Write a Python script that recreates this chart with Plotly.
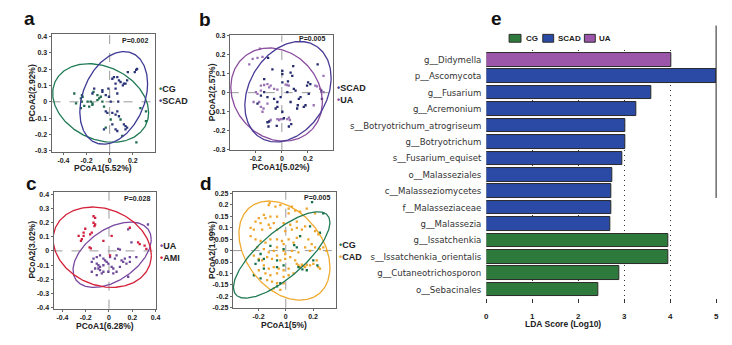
import numpy as np
import plotly.graph_objects as go

W, H = 732, 345
FONT = "Liberation Sans, Arial, sans-serif"

# ---------------- panel a: CG vs SCAD ----------------
a_cg_x = [-0.306, -0.24, -0.234, -0.249, -0.291, -0.24, -0.191, -0.177, -0.163, -0.149,
          -0.14, -0.106, -0.091, -0.077, -0.063, -0.049, -0.106, -0.149, -0.22, -0.249,
          0.266, 0.314, 0.314, 0.231, 0.109, -0.034, 0.009, 0.094]
a_cg_y = [0.051, 0.041, 0.031, 0.021, -0.009, 0.001, 0.001, -0.029, 0.001, -0.019,
          0.061, 0.041, 0.021, 0.031, 0.001, -0.029, 0.011, -0.009, -0.025, -0.039,
          -0.039, -0.058, -0.118, -0.248, -0.208, -0.158, -0.108, -0.108]
a_scad_x = [-0.134, -0.149, -0.063, -0.063, -0.034, -0.011, -0.006, 0.009, 0.023, 0.037,
            0.066, 0.08, 0.051, 0.094, 0.123, 0.137, 0.114, 0.151, 0.157, 0.217,
            0.229, 0.237, 0.051, 0.066, 0.074, -0.034, -0.02, 0.023, 0.051, 0.066,
            0.023, 0.08, 0.123, 0.137, 0.151, 0.137, -0.049, 0.051, 0.066]
a_scad_y = [0.081, 0.051, 0.061, 0.071, 0.041, 0.081, 0.031, 0.001, 0.141, 0.151,
            0.151, 0.131, 0.111, 0.121, 0.111, 0.111, 0.101, 0.131, 0.181, 0.181,
            0.195, 0.201, 0.081, 0.051, 0.001, -0.058, -0.068, -0.068, -0.078, -0.058,
            -0.138, -0.088, -0.138, -0.148, -0.158, -0.168, -0.168, -0.168, -0.178]

# ---------------- panel b: SCAD vs UA ----------------
b_ua_x = [-0.168, -0.223, -0.186, -0.148, -0.249, -0.16, -0.135, -0.11, -0.198, -0.186,
          -0.16, -0.097, -0.085, -0.059, -0.034, 0.029, 0.042, 0.054, -0.216, -0.173,
          -0.16, -0.14, -0.148, -0.11, -0.085, -0.034, -0.021, -0.009, 0.004, 0.042,
          0.054, 0.062, 0.256, 0.269, 0.244, 0.319, 0.319, 0.294]
b_ua_y = [0.23, 0.177, 0.182, 0.187, 0.148, 0.037, 0.04, 0.045, 0.003, -0.006,
          0.011, 0.028, 0.037, 0.02, 0.016, 0.042, 0.04, 0.037, -0.049, -0.049,
          -0.074, -0.083, -0.1, -0.057, -0.143, -0.138, -0.143, -0.138, -0.138, -0.138,
          -0.131, -0.143, 0.037, 0.033, -0.066, 0.088, 0.003, 0.02]
b_scad_x = [-0.105, -0.135, -0.072, 0.004, 0.004, 0.067, 0.08, 0.087, 0.004, 0.047,
            0.092, 0.105, 0.13, 0.117, 0.143, 0.067, -0.034, -0.059, -0.009, -0.11,
            -0.186, -0.16, -0.034, -0.047, 0.004, 0.016, 0.054, 0.072, -0.097, -0.11,
            -0.102, -0.039, 0.201, 0.218, 0.206, 0.274, 0.302, 0.307, 0.168, 0.193,
            0.181, 0.122, 0.042, -0.135]
b_scad_y = [0.182, 0.071, 0.122, 0.114, 0.097, 0.105, 0.088, 0.139, 0.054, 0.059,
            0.02, 0.011, -0.032, -0.083, -0.023, -0.049, -0.049, -0.032, -0.023, -0.023,
            -0.057, -0.015, -0.074, -0.083, -0.1, -0.134, -0.177, -0.165, -0.151, -0.155,
            -0.177, -0.174, 0.054, 0.045, -0.006, 0.148, 0.011, -0.032, -0.074, 0.037,
            -0.066, -0.066, 0.003, 0.003]

# ---------------- panel c: UA vs AMI ----------------
c_ua_x = [-0.105, -0.077, -0.048, -0.034, -0.133, -0.148, -0.105, -0.091, -0.077, -0.048,
          -0.02, -0.006, 0.009, 0.023, 0.037, 0.051, 0.065, 0.079, 0.094, 0.108,
          0.122, 0.136, 0.15, 0.179, 0.179, 0.193, 0.165, -0.048, -0.077, -0.091,
          -0.062, -0.105, -0.148, -0.119, -0.006, 0.037, 0.065, 0.094, 0.235, 0.165,
          0.335]
c_ua_y = [-0.044, -0.032, -0.055, -0.067, -0.055, -0.078, -0.09, -0.101, -0.113, -0.101,
          -0.078, -0.09, -0.044, -0.113, -0.124, -0.055, -0.032, 0.014, 0.009, -0.067,
          -0.078, -0.055, -0.09, -0.044, -0.078, 0.06, -0.182, -0.147, -0.136, -0.124,
          -0.159, -0.17, -0.147, -0.124, -0.147, -0.159, -0.147, -0.113, -0.044, 0.152,
          0.186]
c_ami_x = [-0.204, -0.218, -0.261, -0.233, -0.241, -0.162, -0.148, -0.133, -0.119, -0.133,
           -0.119, -0.125, -0.167, -0.156, -0.048, 0.023, 0.009, -0.218, 0.25, 0.264,
           0.306, 0.321, 0.179]
c_ami_y = [0.156, 0.129, 0.106, 0.083, 0.071, 0.117, 0.129, 0.244, 0.232, 0.198,
           0.186, 0.175, 0.025, 0.018, 0.071, 0.106, -0.032, 0.106, 0.06, 0.048,
           0.037, 0.014, 0.163]

# ---------------- panel d: CG vs CAD ----------------
d_cad_x = [-0.118, -0.125, -0.076, -0.04, 0.021, 0.045, 0.069, 0.105, 0.154, 0.215,
           -0.161, -0.198, -0.149, -0.113, -0.064, 0.021, -0.222, -0.185, -0.125, -0.088,
           -0.016, 0.033, 0.081, -0.258, -0.234, -0.173, -0.113, -0.064, -0.004, 0.045,
           0.081, 0.118, 0.142, 0.215, 0.239, -0.258, -0.222, -0.185, -0.149, -0.113,
           -0.064, -0.028, -0.016, 0.021, 0.057, 0.081, 0.105, 0.166, 0.19, -0.21,
           -0.161, -0.125, -0.088, -0.064, -0.016, -0.004, 0.045, 0.093, 0.142, 0.178,
           0.215, 0.251, 0.275, 0.299, -0.234, -0.198, -0.173, -0.137, -0.101, -0.064,
           -0.04, -0.004, 0.033, 0.069, 0.081, 0.093, 0.105, 0.118, 0.13, 0.142,
           0.154, 0.178, 0.202, 0.227, 0.239, 0.251, -0.161, -0.125, -0.088, -0.052,
           -0.016, 0.021, -0.198, -0.149, -0.113, -0.064, -0.016, 0.021, 0.057, -0.137,
           -0.101, -0.064, -0.016, -0.088, -0.04]
d_cad_y = [0.209, 0.199, 0.192, 0.199, 0.184, 0.192, 0.175, 0.17, 0.184, 0.163,
           0.156, 0.142, 0.142, 0.149, 0.149, 0.163, 0.127, 0.12, 0.113, 0.12,
           0.12, 0.113, 0.127, 0.099, 0.092, 0.092, 0.099, 0.092, 0.085, 0.092,
           0.099, 0.092, 0.106, 0.085, 0.071, 0.063, 0.049, 0.042, 0.035, 0.049,
           0.049, 0.042, 0.028, 0.049, 0.035, 0.056, 0.063, 0.049, 0.028, 0.014,
           0.006, -0.008, -0.001, 0.014, -0.001, -0.015, -0.001, -0.008, 0.014, -0.001,
           0.014, 0.006, 0.014, -0.001, -0.022, -0.036, -0.043, -0.029, -0.036, -0.022,
           -0.043, -0.036, -0.029, -0.043, -0.058, -0.065, -0.072, -0.062, -0.068, -0.072,
           -0.062, -0.065, -0.058, -0.043, -0.072, -0.079, -0.065, -0.079, -0.072, -0.079,
           -0.086, -0.079, -0.086, -0.1, -0.108, -0.1, -0.115, -0.108, -0.1, -0.129,
           -0.136, -0.143, -0.143, -0.165, -0.172]
d_cg_x = [0.275, 0.251, 0.178, 0.105, 0.081, 0.062, -0.016, -0.113, -0.161, -0.198,
          -0.222, -0.185, -0.161, -0.064, -0.064, -0.016, 0.093, 0.122, 0.154, 0.202,
          -0.234, -0.185, -0.04, -0.064, 0.232, 0.193]
d_cg_y = [0.163, 0.078, 0.106, 0.063, 0.014, 0.024, 0.006, 0.021, -0.036, -0.043,
          -0.058, -0.015, -0.079, -0.043, -0.072, -0.065, -0.072, -0.082, -0.086, -0.043,
          -0.108, -0.122, -0.143, -0.157, -0.065, 0.212]

# confidence ellipses: centre x, centre y, half-width, half-height, tilt phase
ell_a_cg = [-0.078, -0.007, 0.415, 0.24, -0.25]
ell_a_scad = [0.035, 0.024, 0.293, 0.283, 0.31]
ell_b_ua = [-0.04, -0.01, 0.35, 0.244, -0.16]
ell_b_scad = [0.047, 0.005, 0.33, 0.263, 0.28]
ell_c_ami = [-0.058, 0.026, 0.422, 0.283, -0.2]
ell_c_ua = [0.027, -0.027, 0.336, 0.23, 0.49]
ell_d_cg = [-0.03, -0.019, 0.354, 0.189, 0.85]
ell_d_cad = [-0.01, 0.0, 0.334, 0.217, -0.35]

# ---------------- panel e: LDA effect sizes ----------------
lda_taxa = ["g__Didymella", "p__Ascomycota", "g__Fusarium", "g__Acremonium",
            "s__Botryotrichum_atrogriseum", "g__Botryotrichum", "s__Fusarium_equiset",
            "o__Malasseziales", "c__Malasseziomycetes", "f__Malasseziaceae",
            "g__Malassezia", "g__Issatchenkia", "s__Issatchenkia_orientalis",
            "g__Cutaneotrichosporon", "o__Sebacinales"]
lda_scores = [4.02, 5.0, 3.59, 3.27, 3.02, 3.02, 2.95, 2.74, 2.72, 2.71,
              2.70, 3.96, 3.96, 2.90, 2.44]
lda_groups = ["UA", "SCAD", "SCAD", "SCAD", "SCAD", "SCAD", "SCAD", "SCAD", "SCAD", "SCAD",
              "SCAD", "CG", "CG", "CG", "CG"]
lda_ticks = [0, 1, 2, 3, 4, 5]

GROUP_FILL = {"CG": "#2e7a3c", "SCAD": "#2a4aa6", "UA": "#9c56a9"}


def px(x):
    return x / W


def py(y):
    return 1 - y / H


def ellipse(p, n=240):
    cx, cy, rx, ry, phi = p
    t = np.linspace(0, 2 * np.pi, n)
    return cx + rx * np.cos(t), cy + ry * np.sin(t + phi)


def fmt(v):
    s = ("%.2f" % v).rstrip("0").rstrip(".")
    return "0" if s in ("-0", "0") else s


fig = go.Figure()

panels = [
    # suffix, frame px (x0,x1,y0,y1), x range, y range, x ticks, y ticks
    ("", (50, 154, 31, 151), [-0.503, 0.388], [-0.306, 0.412],
     [-0.4, -0.2, 0, 0.2], [-0.3, -0.2, -0.1, 0, 0.1, 0.2, 0.3, 0.4]),
    ("2", (230, 334, 32, 149), [-0.398, 0.39], [-0.3, 0.3],
     [-0.2, 0, 0.2], [-0.3, -0.2, -0.1, 0, 0.1, 0.2, 0.3]),
    ("3", (52, 155, 192, 311), [-0.477, 0.4], [-0.407, 0.414],
     [-0.4, -0.2, 0, 0.2, 0.4], [-0.4, -0.3, -0.2, -0.1, 0, 0.1, 0.2, 0.3, 0.4]),
    ("4", (233, 337, 192, 310), [-0.389, 0.367], [-0.25, 0.256],
     [-0.2, 0, 0.2], [-0.25, -0.2, -0.15, -0.1, -0.05, 0, 0.05, 0.1, 0.15, 0.2, 0.25]),
]

scatter_sets = [
    [(a_cg_x, a_cg_y, "#1d6a4c"), (a_scad_x, a_scad_y, "#2a3478")],
    [(b_ua_x, b_ua_y, "#9a72b4"), (b_scad_x, b_scad_y, "#242a6c")],
    [(c_ua_x, c_ua_y, "#6e4a98"), (c_ami_x, c_ami_y, "#d0203e")],
    [(d_cad_x, d_cad_y, "#f0a52c"), (d_cg_x, d_cg_y, "#16704a")],
]
ellipse_sets = [
    [(ell_a_cg, "#1f7a55"), (ell_a_scad, "#3d3a96")],
    [(ell_b_ua, "#8a4c9e"), (ell_b_scad, "#4a3c96")],
    [(ell_c_ua, "#7a48a0"), (ell_c_ami, "#d42038")],
    [(ell_d_cad, "#f0aa30"), (ell_d_cg, "#1f7a55")],
]

layout_axes = {}
shapes = []
annotations = []

for i, (suf, (fx0, fx1, fy0, fy1), xr, yr, xt, yt) in enumerate(panels):
    xa = "x" + suf
    ya = "y" + suf
    layout_axes["xaxis" + suf] = dict(
        domain=[px(fx0), px(fx1)], range=xr, anchor=ya,
        tickvals=xt, ticktext=[fmt(v) for v in xt],
        showline=True, mirror=True, linecolor="#666", linewidth=1,
        ticks="outside", ticklen=2, tickcolor="#666", ticklabelstandoff=0,
        showgrid=False, zeroline=False,
        tickfont=dict(family=FONT, size=7, color="#222", weight="bold"))
    layout_axes["yaxis" + suf] = dict(
        domain=[py(fy1), py(fy0)], range=yr, anchor=xa,
        tickvals=yt, ticktext=[fmt(v) for v in yt],
        showline=True, mirror=True, linecolor="#666", linewidth=1,
        ticks="outside", ticklen=2, tickcolor="#666",
        showgrid=False, zeroline=False,
        tickfont=dict(family=FONT, size=7, color="#222", weight="bold"))
    # dashed origin cross-hair
    shapes.append(dict(type="line", xref=xa, yref=ya + " domain", x0=0, x1=0, y0=0, y1=1,
                       line=dict(color="#9a9a9a", width=1, dash="dash"), layer="below"))
    shapes.append(dict(type="line", xref=xa + " domain", yref=ya, x0=0, x1=1, y0=0, y1=0,
                       line=dict(color="#9a9a9a", width=1, dash="dash"), layer="below"))
    for xs, ys, col in scatter_sets[i]:
        fig.add_trace(go.Scatter(x=xs, y=ys, mode="markers", xaxis=xa, yaxis=ya,
                                 marker=dict(symbol="square", size=2.3, color=col,
                                             line=dict(width=0)),
                                 showlegend=False, hoverinfo="skip"))
    for p, col in ellipse_sets[i]:
        ex, ey = ellipse(p)
        fig.add_trace(go.Scatter(x=ex, y=ey, mode="lines", xaxis=xa, yaxis=ya,
                                 line=dict(color=col, width=1.3),
                                 showlegend=False, hoverinfo="skip"))

# ---- panel e bars ----
ypos = list(range(len(lda_taxa)))
fig.add_trace(go.Bar(
    x=lda_scores, y=ypos, orientation="h", xaxis="x5", yaxis="y5", width=0.83,
    marker=dict(color=[GROUP_FILL[g] for g in lda_groups],
                line=dict(color="#2a2a2a", width=1)),
    showlegend=False, hoverinfo="skip"))

layout_axes["xaxis5"] = dict(
    domain=[px(489), px(721)], range=[0, 5], anchor="y5",
    tickvals=lda_ticks, ticktext=[str(v) for v in lda_ticks],
    showgrid=True, gridcolor="#333", griddash="1px,4px", gridwidth=1,
    showline=False, zeroline=False, ticks="outside", ticklen=4, tickcolor="#333",
    ticklabelstandoff=6,
    tickfont=dict(family=FONT, size=8, color="#222", weight="bold"))
layout_axes["yaxis5"] = dict(
    domain=[py(300), py(47)], range=[14.5, -0.6], anchor="x5",
    tickvals=ypos, ticktext=lda_taxa, showgrid=False, zeroline=False, showline=False,
    ticks="", ticklabelstandoff=4,
    tickfont=dict(family="DejaVu Sans, sans-serif", size=8.6, color="#333"))

# solid right-hand rule at score 5
shapes.append(dict(type="line", xref="paper", yref="paper", x0=px(721), x1=px(721),
                   y0=py(22), y1=py(198), line=dict(color="#222", width=1)))

# legend of panel e
leg_items = [("CG", 512, 524, 527), ("SCAD", 546, 557, 559), ("UA", 588, 599, 601)]
for name, bx0, bx1, tx in leg_items:
    shapes.append(dict(type="rect", xref="paper", yref="paper",
                       x0=px(bx0), x1=px(bx1), y0=py(39), y1=py(31),
                       fillcolor=GROUP_FILL[name], line=dict(color="#2a2a2a", width=1)))
    annotations.append(dict(x=px(tx), y=py(35), xref="paper", yref="paper", text=name,
                            showarrow=False, xanchor="left", yanchor="middle",
                            font=dict(family=FONT, size=8, color="#222", weight="bold")))

annotations.append(dict(x=px(566), y=py(327), xref="paper", yref="paper",
                        text="LDA Score (Log10)", showarrow=False,
                        xanchor="center", yanchor="middle",
                        font=dict(family=FONT, size=8.5, color="#222", weight="bold")))

# panel letters
for lab, x, y in [("a", 28, 15), ("b", 205, 16), ("c", 30, 183), ("d", 206, 183), ("e", 499, 15)]:
    annotations.append(dict(x=px(x), y=py(y), xref="paper", yref="paper", text=lab,
                            showarrow=False, xanchor="center", yanchor="middle",
                            font=dict(family=FONT, size=19, color="#111", weight="bold")))

# axis titles, P values and group keys of the ordination panels
ord_text = [
    ("PCoA1(5.52%)", 102, 167, "PCoA2(2.92%)", 30, 91, "P=0.002", 149, 37,
     [("CG", "#1f7a55"), ("SCAD", "#3d3a96")], 156, 87),
    ("PCoA1(5.02%)", 282, 166, "PCoA2(2.57%)", 212, 90, "P=0.005", 328, 35,
     [("SCAD", "#3d3a96"), ("UA", "#8a4c9e")], 336, 86),
    ("PCoA1(6.28%)", 104, 329, "PCoA2(3.02%)", 30, 251, "P=0.028", 151, 199,
     [("UA", "#7a48a0"), ("AMI", "#d42038")], 158, 247),
    ("PCoA1(5%)", 285, 328, "PCoA2(1.99%)", 212, 251, "P=0.005", 333, 198,
     [("CG", "#1f7a55"), ("CAD", "#f0aa30")], 338, 246),
]
for (xt_, xtx, xty, yt_, ytx, yty, ptxt, pvx, pvy, keys, kx, ky) in ord_text:
    annotations.append(dict(x=px(xtx), y=py(xty), xref="paper", yref="paper", text=xt_,
                            showarrow=False, xanchor="center", yanchor="middle",
                            font=dict(family=FONT, size=8.5, color="#222", weight="bold")))
    annotations.append(dict(x=px(ytx), y=py(yty), xref="paper", yref="paper", text=yt_,
                            showarrow=False, xanchor="center", yanchor="middle", textangle=-90,
                            font=dict(family=FONT, size=8.5, color="#222", weight="bold")))
    annotations.append(dict(x=px(pvx), y=py(pvy), xref="paper", yref="paper", text=ptxt,
                            showarrow=False, xanchor="right", yanchor="middle",
                            font=dict(family=FONT, size=7, color="#222", weight="bold")))
    for k, (name, col) in enumerate(keys):
        annotations.append(dict(
            x=px(kx), y=py(ky + 12 * k), xref="paper", yref="paper",
            text="<span style='color:%s'>•</span>%s" % (col, name),
            showarrow=False, xanchor="left", yanchor="middle",
            font=dict(family=FONT, size=9, color="#222", weight="bold")))

fig.update_layout(
    width=W, height=H, margin=dict(l=0, r=0, t=0, b=0),
    paper_bgcolor="white", plot_bgcolor="white",
    shapes=shapes, annotations=annotations, bargap=0, **layout_axes)

fig.write_html("out.html")
